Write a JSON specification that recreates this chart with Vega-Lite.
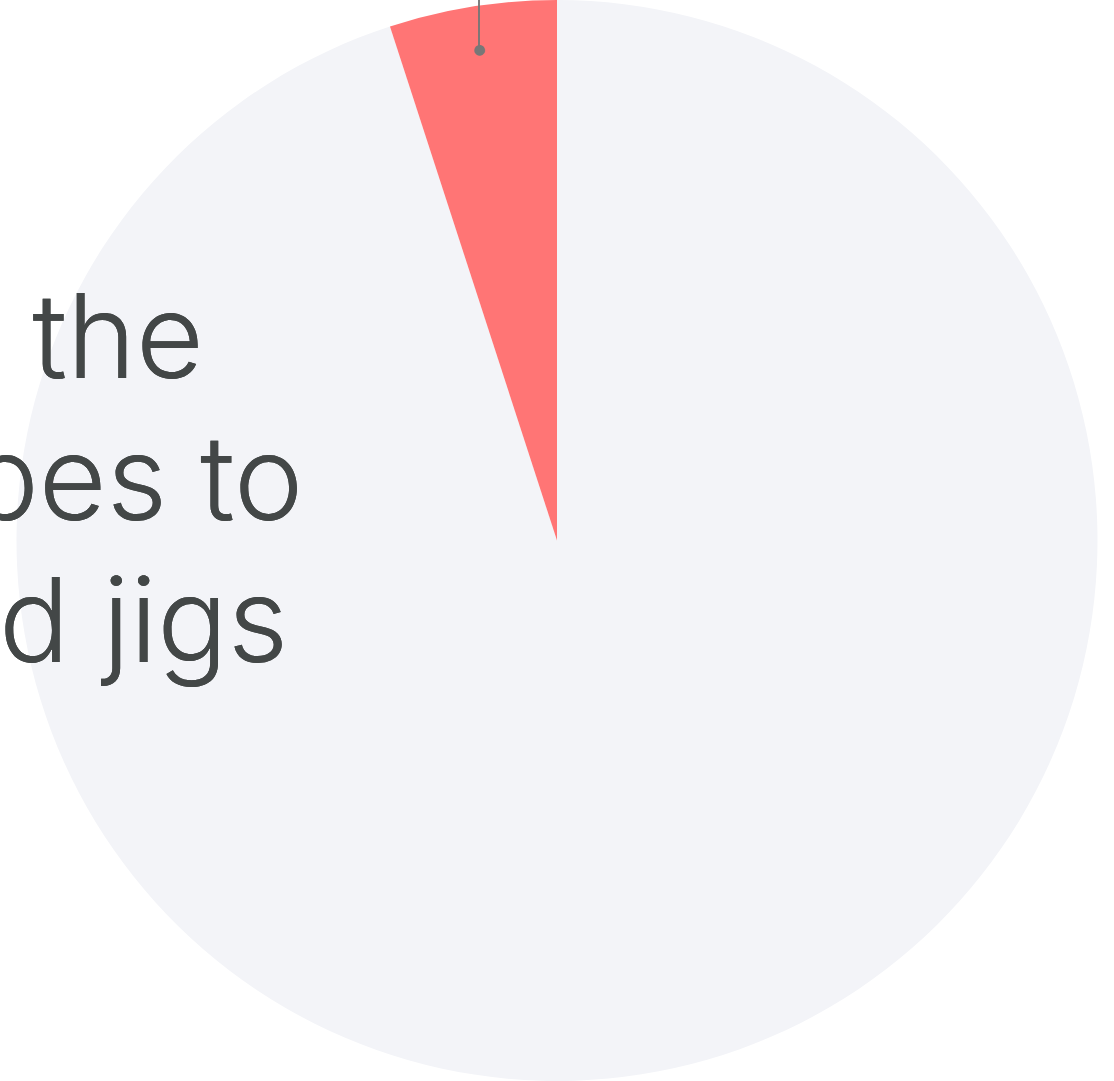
{
  "$schema": "https://vega.github.io/schema/vega-lite/v6.json",
  "width": 1114,
  "height": 1081,
  "autosize": "none",
  "padding": 0,
  "background": "#ffffff",
  "config": {"view": {"stroke": null}},
  "data": {
    "values": [
      {"category": "Other", "value": 95},
      {"category": "Highlighted", "value": 5}
    ]
  },
  "layer": [
    {
      "mark": {"type": "arc"},
      "encoding": {
        "theta": {"field": "value", "type": "quantitative", "stack": true},
        "order": {"field": "category", "sort": "descending"},
        "color": {
          "field": "category",
          "type": "nominal",
          "scale": {"domain": ["Other", "Highlighted"], "range": ["#f3f4f8", "#ff7575"]},
          "legend": null
        }
      }
    },
    {
      "mark": {"type": "rule", "color": "#777777", "strokeWidth": 1.5},
      "encoding": {
        "x": {"value": 479},
        "y": {"value": 0},
        "y2": {"value": 50}
      }
    },
    {
      "mark": {"type": "text", "radius": 497, "fontSize": 14, "align": "center", "baseline": "middle", "color": "#777777", "font": "DejaVu Sans"},
      "encoding": {
        "theta": {"field": "value", "type": "quantitative", "stack": true},
        "order": {"field": "category", "sort": "descending"},
        "text": {"condition": {"test": "datum.category === 'Highlighted'", "value": "●"}, "value": ""}
      }
    },
    {
      "mark": {
        "type": "text",
        "x": -134,
        "y": 378,
        "align": "left",
        "baseline": "alphabetic",
        "font": "Inter",
        "fontSize": 117,
        "fontWeight": 330,
        "lineHeight": 142,
        "color": "#434747",
        "text": ["by the", "types to", "and jigs"]
      },
      "encoding": {}
    }
  ]
}
